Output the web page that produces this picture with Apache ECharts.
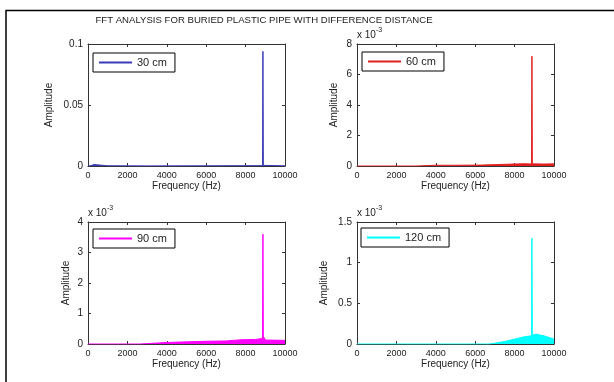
<!DOCTYPE html>
<html>
<head>
<meta charset="utf-8">
<script src="https://cdn.jsdelivr.net/npm/echarts@6/dist/echarts.min.js"></script>
<style>
  html, body { margin: 0; padding: 0; background: #fff; }
  #chart { width: 614px; height: 382px; }
</style>
</head>
<body>
<div id="chart"></div>
<script>
// frequency ticks (Hz)
const freqTicks = [0, 2000, 4000, 6000, 8000, 10000];

// spectra: [frequency Hz, amplitude]
// 30 cm is in plain units, the others in units of 1e-3
const spec30 = [[0, 0], [150, 0.0003], [250, 0.0016], [300, 0.0012], [400, 0.0002], [1000, 0.0002], [3000, 0.0001], [8860, 0.0003], [8880, 0.094], [8900, 0.0005], [10000, 0.0002]];
const spec60 = [[0, 0], [3000, 0], [3050, 0.04], [4000, 0.05], [5000, 0.05], [6300, 0.06], [6400, 0.1], [7500, 0.11], [8500, 0.15], [8520, 0.22], [8540, 0.12], [8860, 0.13], [8880, 7.2], [8900, 0.14], [9500, 0.13], [10000, 0.14]];
const spec90 = [[0, 0], [2650, 0], [2700, 0.03], [4000, 0.05], [5000, 0.07], [6000, 0.09], [7000, 0.1], [7800, 0.14], [8500, 0.15], [8860, 0.18], [8880, 3.6], [8900, 0.25], [8950, 0.2], [9000, 0.13], [10000, 0.12]];
const spec120 = [[0, 0], [6700, 0], [7000, 0.01], [7500, 0.03], [8000, 0.06], [8500, 0.09], [8860, 0.1], [8880, 1.3], [8900, 0.11], [9100, 0.12], [9500, 0.1], [10000, 0.06]];

const seriesNames = ['30 cm', '60 cm', '90 cm', '120 cm'];
const yMax = [0.1, 8, 4, 1.5];
const yStep = [0.05, 2, 1, 0.5];
const scaled = [false, true, true, true];

const FONT = "'Liberation Sans', Arial, sans-serif";
const TXT = '#222';
const AXIS = '#333';

const panels = [
  { left: 88, top: 44, name: seriesNames[0], data: spec30, color: '#3a3ab8', yNameGap: 34, legend: [93, 53] },
  { left: 357, top: 44, name: seriesNames[1], data: spec60, color: '#e02020', yNameGap: 18, legend: [362, 52] },
  { left: 88, top: 222, name: seriesNames[2], data: spec90, color: '#ff00ff', yNameGap: 17, legend: [93, 229] },
  { left: 357, top: 222, name: seriesNames[3], data: spec120, color: '#00ffff', yNameGap: 28, legend: [361, 228] },
];

const chart = echarts.init(document.getElementById('chart'));

const grid = [], xAxis = [], yAxis = [], series = [], legend = [];
const tickOnly = { axisLabel: { show: false }, splitLine: { show: false } };

panels.forEach((p, i) => {
  grid.push({ left: p.left, top: p.top, width: 197, height: 122 });
  const xBase = {
    type: 'value', gridIndex: i, min: freqTicks[0], max: freqTicks[freqTicks.length - 1], interval: freqTicks[1] - freqTicks[0],
    axisLine: { show: true, onZero: false, lineStyle: { color: AXIS, width: 1 } },
    axisTick: { show: true, inside: true, length: 3, lineStyle: { color: AXIS } },
    splitLine: { show: false },
  };
  xAxis.push({
    ...xBase, position: 'bottom',
    name: 'Frequency (Hz)', nameLocation: 'middle', nameGap: 11,
    nameTextStyle: { fontFamily: FONT, fontSize: 10, color: TXT },
    axisLabel: { fontFamily: FONT, fontSize: 9, color: TXT, margin: 5, hideOverlap: false, formatter: (v) => String(v) },
  });
  xAxis.push({ ...xBase, ...tickOnly, position: 'top' });

  const yBase = {
    type: 'value', gridIndex: i, min: 0, max: yMax[i], interval: yStep[i],
    axisLine: { show: true, onZero: false, lineStyle: { color: AXIS, width: 1 } },
    axisTick: { show: true, inside: true, length: 3, lineStyle: { color: AXIS } },
    splitLine: { show: false },
  };
  yAxis.push({
    ...yBase, position: 'left',
    name: 'Amplitude', nameLocation: 'middle', nameGap: p.yNameGap,
    nameTextStyle: { fontFamily: FONT, fontSize: 10, color: TXT },
    axisLabel: { fontFamily: FONT, fontSize: 10, color: TXT, margin: 5, hideOverlap: false, formatter: (v) => String(v) },
  });
  yAxis.push({ ...yBase, ...tickOnly, position: 'right' });
  yAxis.push({
    type: 'value', gridIndex: i, min: 0, max: yMax[i], position: 'left',
    axisLine: { show: false }, axisTick: { show: false }, axisLabel: { show: false }, splitLine: { show: false },
    name: scaled[i] ? '{m|x 10}{s|-3}' : '', nameLocation: 'end', nameGap: 4,
    nameTextStyle: {
      align: 'left', verticalAlign: 'bottom',
      rich: {
        m: { fontFamily: FONT, fontSize: 10, color: TXT, lineHeight: 13, verticalAlign: 'bottom' },
        s: { fontFamily: FONT, fontSize: 7, color: TXT, lineHeight: 13, verticalAlign: 'top' },
      },
    },
  });

  series.push({
    name: p.name, type: 'line', xAxisIndex: i * 2, yAxisIndex: i * 3,
    data: p.data, showSymbol: false, symbol: 'none', silent: true,
    lineStyle: { color: p.color, width: 1 },
    itemStyle: { color: p.color },
    areaStyle: { color: p.color, opacity: 1 },
    animation: false,
  });

  legend.push({
    data: [p.name], left: p.legend[0], top: p.legend[1],
    icon: 'rect', itemWidth: 33, itemHeight: 2,
    padding: [4, 8, 4, 6], borderColor: '#000', borderWidth: 1, borderRadius: 0,
    backgroundColor: '#fff',
    textStyle: { fontFamily: FONT, fontSize: 11, color: TXT, lineHeight: 11 },
    selectedMode: false,
  });
});

chart.setOption({
  animation: false,
  backgroundColor: '#fff',
  title: {
    text: 'FFT ANALYSIS FOR BURIED PLASTIC PIPE WITH DIFFERENCE DISTANCE',
    left: 264, top: 15, textAlign: 'center', padding: 0,
    textStyle: { fontFamily: FONT, fontSize: 9.6, fontWeight: 'normal', color: TXT },
  },
  graphic: [{
    type: 'rect', shape: { x: 6, y: 10.5, width: 700, height: 500 },
    style: { fill: 'none', stroke: '#000', lineWidth: 1.5 }, silent: true,
  }],
  grid, xAxis, yAxis, series, legend,
});
</script>
</body>
</html>
